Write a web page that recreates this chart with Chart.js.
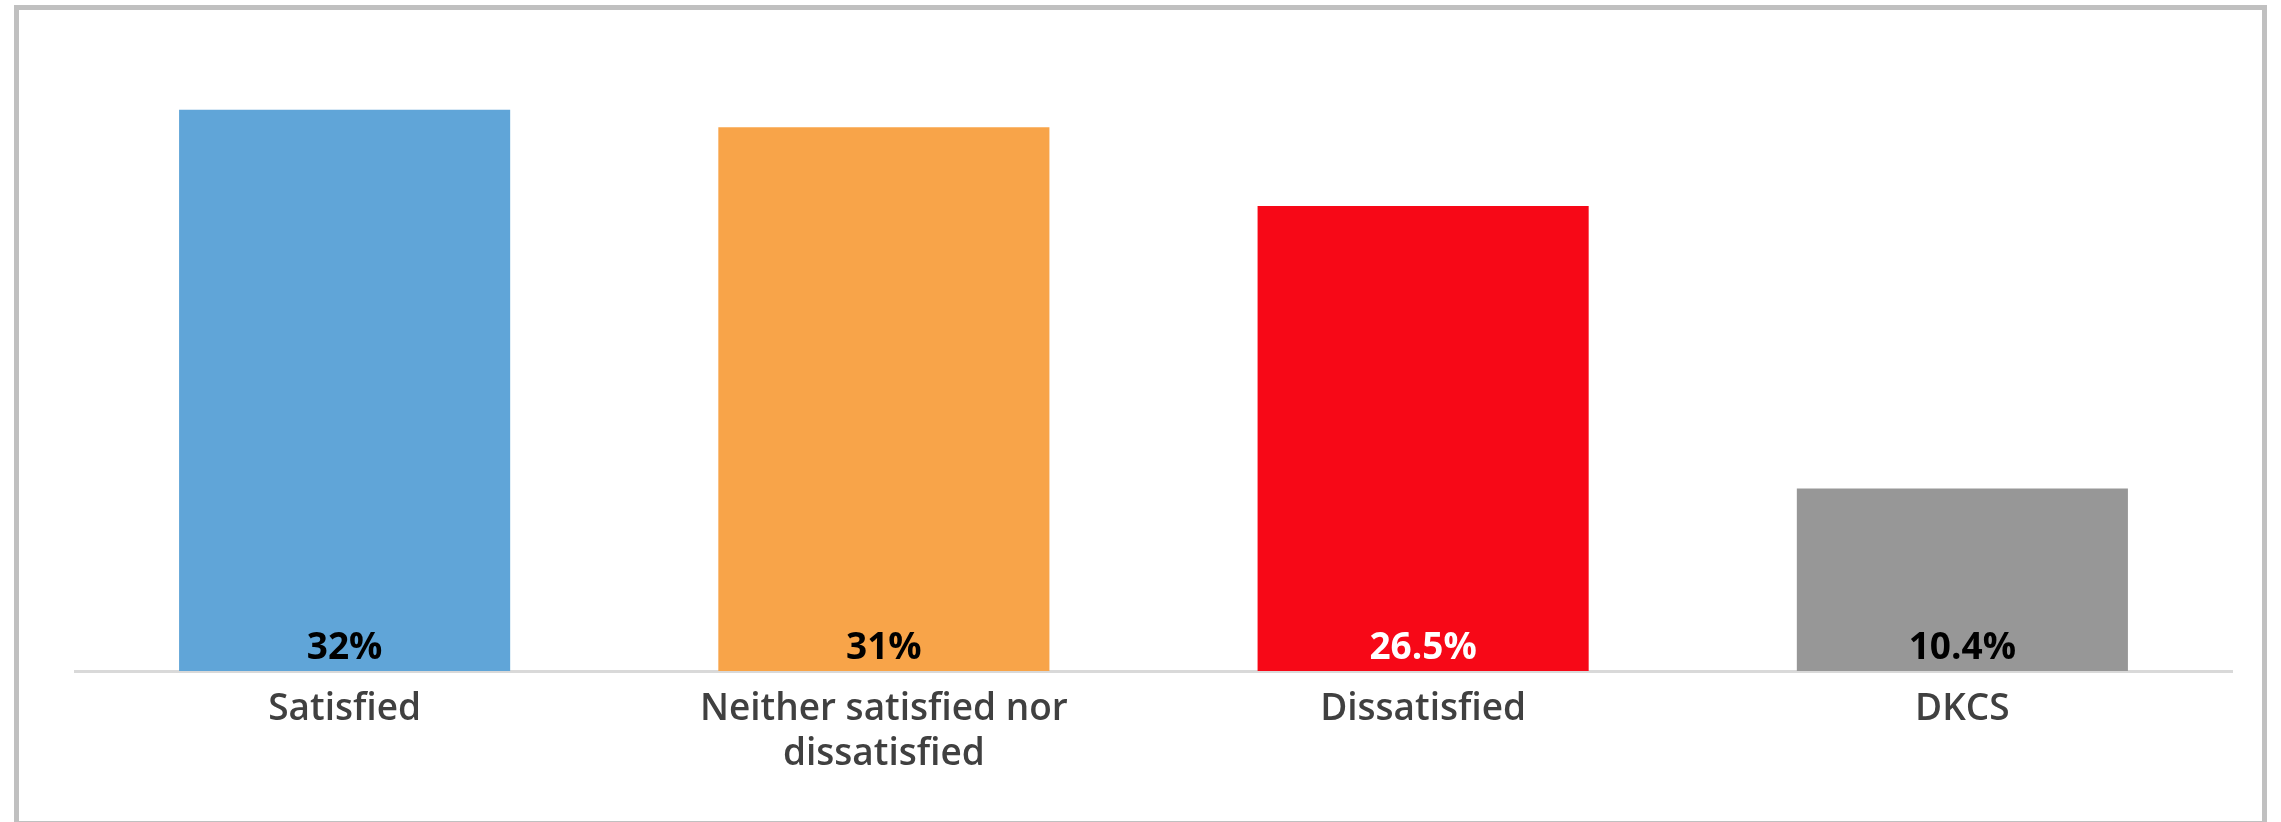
<!DOCTYPE html>
<html>
<head>
<meta charset="utf-8">
<script src="https://cdn.jsdelivr.net/npm/chart.js@4"></script>
<style>
  html, body { margin: 0; padding: 0; background: #fff; }
  #wrap { position: relative; width: 2281px; height: 822px; }
  #frame {
    position: absolute; left: 14px; top: 5px; width: 2243px; height: 811px;
    border: 5px solid #c0c0c0; pointer-events: none;
  }
  canvas { position: absolute; left: 0; top: 0; }
</style>
</head>
<body>
<div id="wrap">
  <canvas id="grafico" width="2281" height="822"></canvas>
  <div id="frame"></div>
</div>
<script>
const categories = ["Satisfied", ["Neither satisfied nor", "dissatisfied"], "Dissatisfied", "DKCS"];
const values = [32, 31, 26.5, 10.4];
const valueLabels = ["32%", "31%", "26.5%", "10.4%"];
const barColors = ["#60a5d8", "#f8a449", "#f70817", "#979797"];
const labelColors = ["#000000", "#000000", "#ffffff", "#000000"];

// draws the % text at the foot of each bar
const barLabels = {
  id: "barLabels",
  afterDatasetsDraw(chart) {
    const ctx = chart.ctx;
    const meta = chart.getDatasetMeta(0);
    ctx.save();
    ctx.font = "bold 37px 'Open Sans'";
    ctx.textAlign = "center";
    ctx.textBaseline = "alphabetic";
    meta.data.forEach((bar, i) => {
      ctx.fillStyle = labelColors[i];
      ctx.fillText(valueLabels[i], bar.x, bar.base - 12);
    });
    ctx.restore();
  }
};

const ctx = document.getElementById("grafico").getContext("2d");
new Chart(ctx, {
  type: "bar",
  data: {
    labels: categories,
    datasets: [{
      data: values,
      backgroundColor: barColors,
      barPercentage: 0.614,
      categoryPercentage: 1
    }]
  },
  options: {
    responsive: false,
    animation: false,
    layout: { padding: { left: 75, right: 49, top: 57, bottom: 0 } },
    plugins: {
      legend: { display: false },
      tooltip: { enabled: false }
    },
    scales: {
      x: {
        grid: { display: false, drawTicks: false },
        border: { display: true, color: "#d9d9d9", width: 3 },
        ticks: {
          color: "#404040",
          font: { family: "'Open Sans'", size: 37, weight: "600", lineHeight: 1.22 },
          padding: 16,
          maxRotation: 0,
          autoSkip: false
        },
        afterFit(scale) { scale.height = 151; }
      },
      y: {
        display: false,
        min: 0,
        max: 35
      }
    }
  },
  plugins: [barLabels]
});
</script>
</body>
</html>
